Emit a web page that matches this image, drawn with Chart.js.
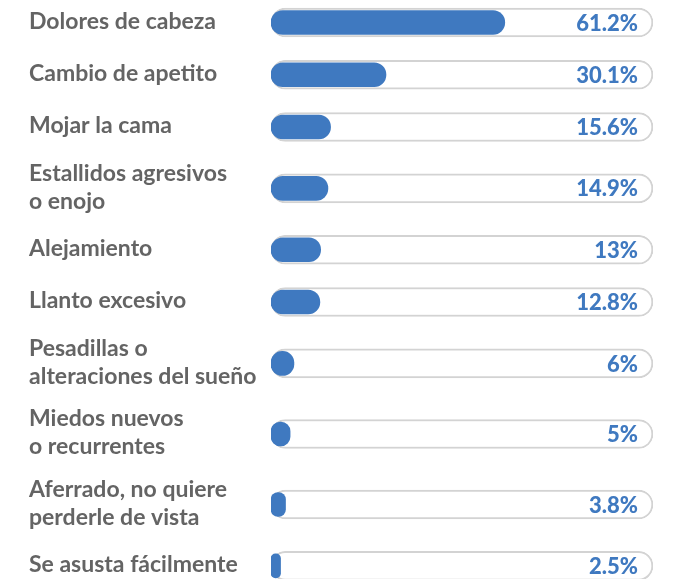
<!DOCTYPE html>
<html>
<head>
<meta charset="utf-8">
<script src="https://cdn.jsdelivr.net/npm/chart.js@4"></script>
<style>
  html, body { margin: 0; padding: 0; background: #fff; }
  #wrap { width: 678px; height: 579px; }
</style>
</head>
<body>
<div id="wrap"><canvas id="sintomas"></canvas></div>
<script>
// síntomas, cada etiqueta puede ir en varias líneas
const categorias = [
  ['Dolores de cabeza'],
  ['Cambio de apetito'],
  ['Mojar la cama'],
  ['Estallidos agresivos', 'o enojo'],
  ['Alejamiento'],
  ['Llanto excesivo'],
  ['Pesadillas o', 'alteraciones del sueño'],
  ['Miedos nuevos', 'o recurrentes'],
  ['Aferrado, no quiere', 'perderle de vista'],
  ['Se asusta fácilmente']
];
const porcentajes = [61.2, 30.1, 15.6, 14.9, 13, 12.8, 6, 5, 3.8, 2.5];
const etiquetas = ['61.2%', '30.1%', '15.6%', '14.9%', '13%', '12.8%', '6%', '5%', '3.8%', '2.5%'];
const total = 100;

// las filas con dos líneas de texto ocupan más alto
const alto = categorias.map(c => c.length > 1 ? 1.35 : 1);
const filas = [0];
for (let i = 1; i < alto.length; i++) {
  filas.push(filas[i - 1] + (alto[i - 1] + alto[i]) / 2);
}

const azul = '#3f79c0';
const gris = '#646464';

// nombres a la izquierda y porcentaje dentro de cada barra
const textosPlugin = {
  id: 'textos',
  afterDatasetsDraw(chart) {
    const { ctx, chartArea } = chart;
    const y = chart.scales.y;
    ctx.save();
    ctx.textBaseline = 'middle';

    ctx.font = 'bold 23px Lato';
    ctx.fillStyle = gris;
    ctx.textAlign = 'left';
    const interlinea = 28;
    categorias.forEach((lineas, i) => {
      const centro = y.getPixelForValue(filas[i]) - 1;
      const inicio = centro - (lineas.length - 1) * interlinea / 2;
      lineas.forEach((t, j) => ctx.fillText(t, 29, inicio + j * interlinea));
    });

    ctx.font = '900 22px Lato';
    ctx.fillStyle = azul;
    ctx.textAlign = 'right';
    chart.getDatasetMeta(0).data.forEach((bar, i) => {
      ctx.fillText(etiquetas[i], chartArea.right - 15, bar.y + 1);
    });
    ctx.restore();
  }
};

new Chart(document.getElementById('sintomas'), {
  type: 'bar',
  data: {
    datasets: [{
      data: porcentajes.map((v, i) => ({ x: v, y: filas[i] })),
      backgroundColor: azul,
      borderWidth: 0,
      borderRadius: 12,
      borderSkipped: false,
      barThickness: 24
    },
    {
      data: porcentajes.map((v, i) => ({ x: total, y: filas[i] })),
      backgroundColor: '#ffffff',
      borderColor: '#d3d3d3',
      borderWidth: 2,
      borderRadius: 15,
      borderSkipped: false,
      barThickness: 29
    }]
  },
  options: {
    indexAxis: 'y',
    responsive: true,
    maintainAspectRatio: false,
    animation: false,
    grouped: false,
    layout: { padding: { left: 29, right: 25, top: 0, bottom: 0 } },
    scales: {
      x: {
        display: false,
        min: 0,
        max: total
      },
      y: {
        type: 'linear',
        reverse: true,
        offset: false,
        min: -0.43,
        max: filas[filas.length - 1] + 0.25,
        grid: { display: false },
        border: { display: false },
        ticks: { display: false },
        afterFit: scale => {
          scale.width = 242;
        }
      }
    },
    plugins: {
      legend: { display: false },
      tooltip: { enabled: false }
    }
  },
  plugins: [textosPlugin]
});
</script>
</body>
</html>
